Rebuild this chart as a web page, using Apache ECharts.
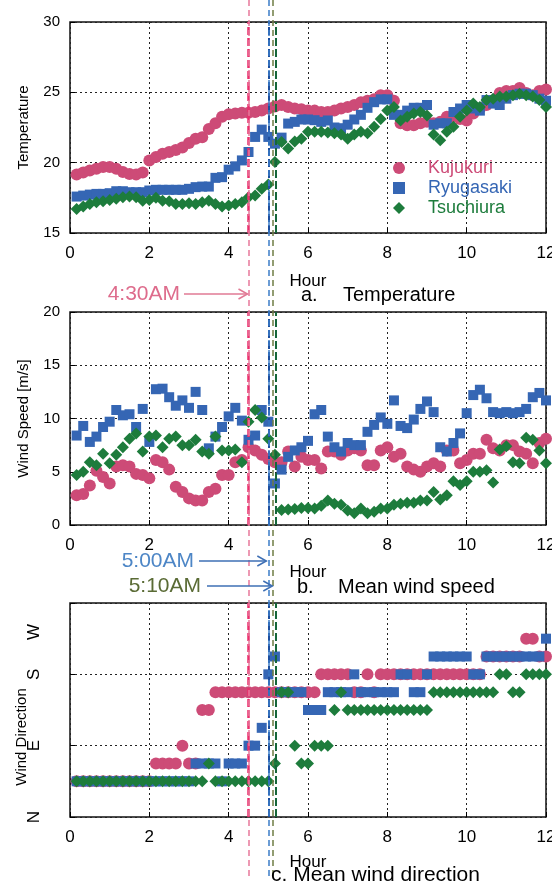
<!DOCTYPE html>
<html>
<head>
<meta charset="utf-8">
<title>Temperature, wind speed and wind direction</title>
<script src="https://cdn.jsdelivr.net/npm/echarts@6/dist/echarts.min.js"></script>
<style>
  html, body { margin: 0; padding: 0; background: #fff; }
  #chart { width: 552px; height: 882px; }
</style>
</head>
<body>
<div id="chart"></div>
<script>
// one reading every 10 minutes, 0:10 .. 12:00
const STEP_MIN = 10;
const SAMPLES = 72;
const hours = Array.from({ length: SAMPLES }, (_, k) => ((k + 1) * STEP_MIN) / 60);

const stations = ['Kujukuri', 'Ryugasaki', 'Tsuchiura'];

// a. temperature (deg C)
const tempKujukuri = [
  19.16, 19.3, 19.45, 19.57, 19.69, 19.7, 19.57, 19.33, 19.2, 19.16, 19.3, 20.16,
  20.4, 20.64, 20.76, 20.9, 21.07, 21.4, 21.7, 21.8, 22.4, 22.8, 23.26, 23.45,
  23.5, 23.55, 23.55, 23.6, 23.7, 23.85, 24.0, 24.1, 23.95, 23.85, 23.8, 23.7,
  23.7, 23.6, 23.6, 23.7, 23.85, 23.95, 24.1, 24.3, 24.4, 24.5, 24.8, 24.8,
  24.4, 22.8, 22.66, 22.66, 22.8, 22.9, 22.8, 22.9, 23.26, 23.26, 23.1, 23.0,
  23.5, 23.85, 24.1, 24.4, 24.95, 25.1, 25.1, 25.3, 24.95, 24.8, 25.1, 25.2
];
const tempRyugasaki = [
  17.59, 17.66, 17.73, 17.78, 17.78, 17.83, 17.97, 17.97, 17.9, 17.9, 17.9, 18.02,
  18.07, 18.07, 18.07, 18.07, 18.07, 18.14, 18.26, 18.3, 18.3, 18.92, 18.97, 19.5,
  19.74, 20.16, 20.76, 21.83, 22.35, 21.83, 21.35, 21.78, 22.78, 22.9, 23.07, 23.07,
  23.02, 22.9, 23.0, 22.5, 22.45, 22.7, 23.07, 23.4, 23.9, 24.3, 24.5, 24.5,
  23.4, 23.4, 23.7, 23.9, 23.9, 24.1, 22.7, 22.8, 22.8, 23.6, 23.85, 24.1,
  23.85, 23.7, 24.45, 24.2, 24.1, 24.55, 24.8, 24.9, 24.9, 24.8, 24.55, 24.4
];
const tempTsuchiura = [
  16.71, 16.88, 17.07, 17.19, 17.26, 17.35, 17.43, 17.55, 17.59, 17.55, 17.3, 17.35,
  17.5, 17.3, 17.26, 17.07, 17.07, 17.12, 17.07, 17.19, 17.3, 17.07, 16.88, 16.95,
  17.07, 17.19, 17.55, 17.66, 18.14, 18.45, 20.04, 21.47, 21.0, 21.5, 21.7, 22.2,
  22.2, 22.2, 22.14, 22.1, 22.0, 21.7, 22.0, 22.2, 22.1, 22.55, 23.1, 23.7,
  23.95, 23.0, 23.26, 23.5, 23.6, 23.35, 22.0, 21.6, 22.2, 22.55, 23.26, 23.7,
  24.2, 23.95, 24.45, 24.55, 24.7, 24.7, 24.8, 24.9, 24.8, 24.7, 24.45, 23.95
];

// b. mean wind speed (m/s)
const windKujukuri = [
  2.8, 2.9, 3.7, 5.1, 4.5, 3.9, 5.5, 5.6, 5.5, 4.8, 4.7, 4.4,
  6.1, 5.9, 5.2, 3.6, 3.1, 2.5, 2.3, 2.3, 3.1, 3.4, 4.7, 4.7,
  5.9, 6.1, 7.3, 7.0, 6.6, 6.2, 5.9, 5.9, 6.9, 5.5, 6.4, 6.1,
  6.1, 5.3, 6.9, 6.9, 6.6, 7.0, 7.2, 7.0, 5.6, 5.6, 7.0, 7.3,
  6.4, 6.7, 5.5, 5.2, 5.0, 5.5, 5.8, 5.5, 7.0, 7.0, 5.8, 6.1,
  6.7, 6.7, 8.0, 7.2, 7.0, 7.5, 7.5, 6.9, 6.7, 5.8, 7.7, 8.1
];
const windRyugasaki = [
  8.4, 9.3, 7.8, 8.3, 9.2, 9.7, 10.8, 10.3, 10.4, 9.2, 10.9, 7.8,
  12.75, 12.8, 12.0, 11.2, 11.7, 11.0, 12.5, 10.8, 7.2, 8.3, 9.2, 10.2,
  11.0, 9.8, 8.0, 8.4, 10.8, 9.7, 3.9, 5.2, 6.4, 7.0, 7.3, 7.9,
  10.4, 10.8, 8.3, 7.3, 6.9, 7.7, 7.5, 7.5, 8.75, 9.4, 10.1, 9.5,
  11.7, 9.3, 9.1, 9.9, 10.9, 11.6, 10.6, 7.3, 6.9, 7.7, 8.6, 10.5,
  12.2, 12.7, 11.9, 10.6, 10.5, 10.6, 10.5, 10.6, 10.9, 12.0, 12.4, 11.7
];
const windTsuchiura = [
  4.7, 5.0, 5.9, 5.6, 6.7, 5.8, 6.6, 7.3, 8.1, 8.6, 6.9, 8.3,
  8.4, 7.3, 8.1, 8.3, 7.5, 7.5, 8.0, 6.9, 6.7, 8.3, 7.0, 7.0,
  7.1, 5.9, 9.7, 10.8, 10.1, 8.1, 6.6, 1.4, 1.45, 1.5, 1.6, 1.6,
  1.55, 1.8, 2.3, 2.0, 1.9, 1.35, 1.1, 1.55, 1.1, 1.25, 1.55, 1.55,
  1.9, 2.0, 2.1, 2.1, 2.3, 2.3, 3.1, 2.4, 2.8, 4.1, 3.75, 4.1,
  5.0, 5.0, 5.15, 4.0, 7.1, 7.4, 5.9, 5.8, 8.2, 8.0, 7.0, 5.8
];

// c. mean wind direction (degrees, 16-point compass)
const dirKujukuri = [
  45, 45, 45, 45, 45, 45, 45, 45, 45, 45, 45, 45,
  67.5, 67.5, 67.5, 67.5, 90, 67.5, 67.5, 135, 135, 157.5, 157.5, 157.5,
  157.5, 157.5, 157.5, 157.5, 157.5, 157.5, 157.5, 157.5, 157.5, 157.5, 157.5, 157.5,
  157.5, 180, 180, 180, 180, 180, 157.5, 157.5, 180, 157.5, 180, 180,
  180, 180, 180, 180, 180, 180, 180, 180, 180, 180, 180, 180,
  180, 180, 202.5, 202.5, 202.5, 202.5, 202.5, 202.5, 225, 225, 202.5, 202.5
];
const dirRyugasaki = [
  45, 45, 45, 45, 45, 45, 45, 45, 45, 45, 45, 45,
  45, 45, 45, 45, 45, 45, 67.5, 67.5, 67.5, 67.5, 45, 67.5,
  67.5, 67.5, 90, 90, 112.5, 180, 202.5, 157.5, 157.5, 157.5, 157.5, 135,
  135, 135, 157.5, 157.5, 157.5, 157.5, 180, 157.5, 157.5, 157.5, 157.5, 157.5,
  157.5, 180, 180, 157.5, 157.5, 180, 202.5, 202.5, 202.5, 202.5, 202.5, 202.5,
  180, 180, 202.5, 202.5, 202.5, 202.5, 202.5, 202.5, 202.5, 202.5, 202.5, 225
];
const dirTsuchiura = [
  45, 45, 45, 45, 45, 45, 45, 45, 45, 45, 45, 45,
  45, 45, 45, 45, 45, 45, 45, 45, 67.5, 45, 45, 45,
  45, 45, 45, 45, 45, 45, 67.5, 157.5, 157.5, 90, 67.5, 67.5,
  90, 90, 90, 135, 157.5, 135, 135, 135, 135, 135, 135, 135,
  135, 135, 135, 135, 135, 135, 157.5, 157.5, 157.5, 157.5, 157.5, 157.5,
  157.5, 157.5, 157.5, 157.5, 180, 180, 157.5, 157.5, 180, 180, 180, 180
];

const dirTicks = { 0: 'N', 90: 'E', 180: 'S', 270: 'W' };

// event times (hour)
const t430 = 4.5;
const t500 = 5.0;
const t510 = 5.1;
const t510in = 5.18;

const FONT = '"Liberation Sans", Arial, sans-serif';
const colors = ['#cd4b77', '#3566b4', '#1d7c3c'];
const symbols = ['circle', 'rect', 'diamond'];
const sizes = [12, 10, 12];

const pair = ys => hours.map((h, k) => [h, ys[k]]);

function scatter(idx, gridIdx, ys) {
  return {
    name: stations[idx],
    type: 'scatter',
    xAxisIndex: gridIdx,
    yAxisIndex: gridIdx,
    symbol: symbols[idx],
    symbolSize: sizes[idx],
    itemStyle: { color: colors[idx], opacity: 1 },
    data: pair(ys),
    z: 2 + idx,
    silent: true
  };
}

function eventLines(gridIdx) {
  return {
    type: 'line',
    xAxisIndex: gridIdx,
    yAxisIndex: gridIdx,
    data: [],
    z: 8,
    silent: true,
    markLine: {
      silent: true,
      symbol: ['none', 'none'],
      label: { show: false },
      animation: false,
      data: [
        { xAxis: t430, lineStyle: { color: '#ea2f6c', width: 2.5, type: [8, 3] } },
        { xAxis: t500, lineStyle: { color: '#1d4e9e', width: 2, type: [8, 3] } },
        { xAxis: t510in, lineStyle: { color: '#16663a', width: 2, type: [8, 3] } }
      ]
    }
  };
}

const grids = [
  { left: 70, top: 22, width: 476, height: 211 },
  { left: 70, top: 312, width: 476, height: 213 },
  { left: 70, top: 603, width: 476, height: 214 }
];

const xAxisBase = (gridIndex, nameGap) => ({
  gridIndex,
  type: 'value',
  min: 0,
  max: 12,
  interval: 2,
  name: 'Hour',
  nameLocation: 'middle',
  nameGap,
  nameMoveOverlap: false,
  nameTextStyle: { fontFamily: FONT, fontSize: 17, color: '#000' },
  axisLine: { show: false },
  axisTick: { show: true, inside: true, length: 5, lineStyle: { color: '#000' } },
  axisLabel: { fontFamily: FONT, fontSize: 17, color: '#000', margin: 12 },
  splitLine: { show: true, lineStyle: { color: '#222', type: [2, 3], width: 1 } }
});

const yAxisBase = (gridIndex, name, min, max, interval) => ({
  gridIndex,
  type: 'value',
  min,
  max,
  interval,
  name,
  nameLocation: 'middle',
  nameGap: 39,
  nameMoveOverlap: false,
  nameTextStyle: { fontFamily: FONT, fontSize: 15, color: '#000' },
  axisLine: { show: false },
  axisTick: { show: true, inside: true, length: 5, lineStyle: { color: '#000' } },
  axisLabel: { fontFamily: FONT, fontSize: 15, color: '#000', margin: 10 },
  splitLine: { show: true, lineStyle: { color: '#222', type: [2, 3], width: 1 } }
});

const yDir = yAxisBase(2, 'Wind Direction', 0, 270, 90);
yDir.nameGap = 41;
yDir.nameTextStyle = { fontFamily: FONT, fontSize: 15, color: '#000', padding: [0, 54, 0, 0] };
yDir.axisLabel = {
  fontFamily: FONT, fontSize: 17, color: '#000', margin: 27, rotate: 90,
  formatter: v => (v === 270 ? '{w|W}' : dirTicks[v] || ''),
  rich: { w: { fontFamily: FONT, fontSize: 17, color: '#000', padding: [0, 58, 0, 0] } }
};

const option = {
  animation: false,
  backgroundColor: '#fff',
  grid: grids.map(g => ({
    ...g, show: true, borderColor: '#111', borderWidth: 1.5,
    backgroundColor: 'transparent', outerBoundsMode: 'none', containLabel: false
  })).concat([{ left: 70, width: 476, top: 0, bottom: 6, outerBoundsMode: 'none' }]),
  xAxis: [
    xAxisBase(0, 40),
    xAxisBase(1, 39),
    xAxisBase(2, 37),
    { gridIndex: 3, type: 'value', min: 0, max: 12, show: false }
  ],
  yAxis: [
    yAxisBase(0, 'Temperature', 15, 30, 5),
    yAxisBase(1, 'Wind Speed [m/s]', 0, 20, 5),
    yDir,
    { gridIndex: 3, type: 'value', min: 0, max: 1, show: false }
  ],
  legend: {
    orient: 'vertical',
    left: 388,
    top: 154,
    itemWidth: 12,
    itemHeight: 12,
    itemGap: 2,
    selectedMode: false,
    textStyle: { fontFamily: FONT, fontSize: 18, padding: [0, 0, 0, 18] },
    data: stations.map((s, k) => ({ name: s, icon: symbols[k], textStyle: { color: colors[k] } }))
  },
  series: [
    scatter(0, 0, tempKujukuri),
    scatter(1, 0, tempRyugasaki),
    scatter(2, 0, tempTsuchiura),
    scatter(0, 1, windKujukuri),
    scatter(1, 1, windRyugasaki),
    scatter(2, 1, windTsuchiura),
    scatter(0, 2, dirKujukuri),
    scatter(1, 2, dirRyugasaki),
    scatter(2, 2, dirTsuchiura),
    eventLines(0),
    eventLines(1),
    eventLines(2),
    {
      // thin guide lines running through all three panels
      type: 'line',
      xAxisIndex: 3,
      yAxisIndex: 3,
      data: [],
      z: 7,
      silent: true,
      markLine: {
        silent: true,
        symbol: ['none', 'none'],
        label: { show: false },
        animation: false,
        data: [
          { xAxis: t430, lineStyle: { color: '#e8789a', width: 1.5, type: [6, 4] } },
          { xAxis: t500, lineStyle: { color: '#3b7cc8', width: 1.5, type: [6, 4] } },
          { xAxis: t510, lineStyle: { color: '#6f7d44', width: 1.5, type: [6, 4] } }
        ]
      }
    }
  ]
};

const chart = echarts.init(document.getElementById('chart'), null, { renderer: 'canvas' });
chart.setOption(option);

// annotations placed from the axis scale
const xPix = h => chart.convertToPixel({ xAxisIndex: 0 }, h);

function label(text, x, y, color, size, align) {
  return {
    type: 'text', x, y, silent: true, z: 20,
    style: { text, fill: color, font: `${size}px ${FONT}`, textAlign: align || 'left', textVerticalAlign: 'middle' }
  };
}

function arrow(x1, x2, y, color) {
  return [
    { type: 'line', silent: true, z: 20, shape: { x1, y1: y, x2, y2: y }, style: { stroke: color, lineWidth: 1.5 } },
    { type: 'polyline', silent: true, z: 20,
      shape: { points: [[x2 - 9, y - 5], [x2, y], [x2 - 9, y + 5]] },
      style: { stroke: color, lineWidth: 1.5, fill: null } }
  ];
}

chart.setOption({
  graphic: [
    label('4:30AM', 180, 294, '#de6c8c', 21, 'right'),
    ...arrow(184, xPix(t430) - 1, 294, '#e07a95'),
    label('a.', 301, 295, '#000', 20),
    label('Temperature', 343, 295, '#000', 20),

    label('5:00AM', 194, 561, '#4d86c6', 21, 'right'),
    ...arrow(199, xPix(t500) - 2, 561, '#3e6fb4'),
    label('5:10AM', 201, 586, '#5a6b35', 21, 'right'),
    ...arrow(207, xPix(t510), 586, '#3e6fb4'),
    label('b.', 297, 587, '#000', 20),
    label('Mean wind speed', 338, 587, '#000', 20),

    label('c. Mean wind direction', 271, 875, '#000', 21)
  ]
});
</script>
</body>
</html>
